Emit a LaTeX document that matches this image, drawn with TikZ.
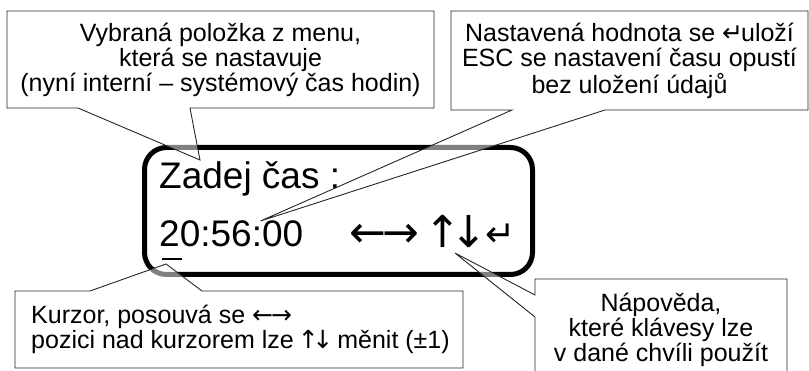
\documentclass[tikz,border=0pt]{standalone}
\usepackage{fontspec}
\setmainfont{Liberation Sans}
\newfontfamily\symfont{DejaVu Sans}
\usetikzlibrary{positioning}
\tikzset{%
    callout/.style={%
        draw=black!85, line width=0.9pt, fill=white, fill opacity=0.5, line join=miter
    },
    calltext/.style={%
        align=center, inner sep=0pt, font=\fontsize{25}{25}\selectfont
    },
    lcd/.style={%
        draw=black, line width=5pt, rounded corners=22pt, minimum width=388pt, minimum height=127pt
    },
    lcdtext/.style={%
        anchor=base west, inner sep=0pt, font=\fontsize{37}{40}\selectfont
    },
    lcdsym/.style={%
        anchor=base west, inner sep=0pt, font=\fontsize{44}{44}\symfont
    },
}
\newcommand{\retkey}{{\symfont ↵}}
\newcommand{\lrkeys}{{\symfont ←\kern-0.08em→}}
\newcommand{\udkeys}{{\symfont ↑\kern-0.25em↓}}

\begin{document}
\begin{tikzpicture}[x=1pt,y=-1pt]
      \useasboundingbox (0,0) rectangle (809,371);
      \clip (0,0) rectangle (809,371);

      % display
      \node[lcd] (lcd) at (338.5,211) {};
      \node[lcdtext] (title) at (159,189) {Zadej čas :};
      \node[lcdtext] (time) at (159,247) {20:56:00};
      \node[lcdsym] (leftright) at (349,248) {\lrkeys};
      \node[lcdsym] (updown) at (424,248) {\udkeys};
      \node[lcdsym, font=\fontsize{36}{36}\symfont] (enter) at (485,247) {↵};
      \draw[line width=2pt] (162,259) -- (182,259);

      \coordinate (menutip) at (200,160);
      \coordinate (valuetip) at (260.5,221);
      \coordinate (cursortip) at (166,264);
      \coordinate (helptip) at (455,253);

      % callouts
      \draw[callout] (7,11) -- (434,11) -- (434,108) -- (190,108) -- (menutip) -- (78,108) -- (7,108) -- cycle;
      \draw[callout] (451,11) -- (808,11) -- (808,110) -- (605,110) -- (valuetip) -- (512,110) -- (451,110) -- cycle;
      \draw[callout] (15,291) -- (90,291) -- (cursortip) -- (202,291) -- (463,291) -- (463,368) -- (15,368) -- cycle;
      \draw[callout] (535,279) -- (787,279) -- (787,385) -- (535,385) -- (535,317) -- (helptip) -- (535,295) -- cycle;

      \node[calltext] (menu) at (220.5,60) {Vybraná položka z menu,\\která se nastavuje\\(nyní interní – systémový čas hodin)};
      \node[calltext] (value) at (629.5,61) {Nastavená hodnota se \retkey\kern-2pt uloží\\ESC se nastavení času opustí\\bez uložení údajů};
      \node[calltext, align=left, anchor=west] (cursor) at (31,329) {Kurzor, posouvá se \lrkeys\\pozici nad kurzorem lze \kern-3pt\udkeys\kern-3pt\ měnit (±1)};
      \node[calltext] (help) at (661,330) {Nápověda,\\které klávesy lze\\v dané chvíli použít};
    \end{tikzpicture}
\end{document}
